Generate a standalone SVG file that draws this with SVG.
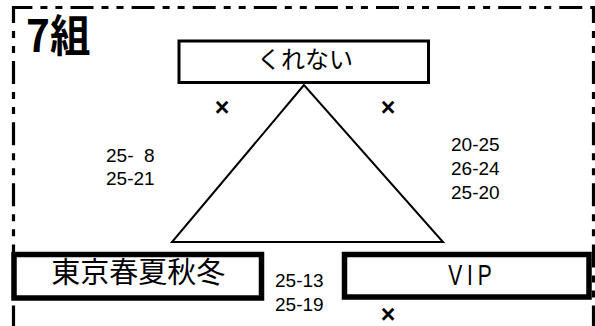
<svg xmlns="http://www.w3.org/2000/svg" width="595" height="326" viewBox="0 0 595 326">
  <style>
    .box { fill: #fff; stroke: #000; }
    .line { fill: none; stroke: #000; stroke-width: 2; }
    .jp { font-family: "Noto Sans CJK JP", sans-serif; fill: #000; }
    .score { font-family: "Liberation Sans", Arial, sans-serif; font-size: 19px; fill: #000; }
    .mark { font-family: "Liberation Sans", Arial, sans-serif; font-size: 25px; font-weight: bold; fill: #000; text-anchor: middle; }
  </style>
  <rect width="595" height="326" fill="#fff"/>
  <g id="frame" fill="none" stroke="#000" stroke-width="3.2" stroke-dasharray="23,8,7,8,7,8.1">
    <line x1="12" y1="7.5" x2="595" y2="7.5" stroke-dashoffset="2.6"/>
    <line x1="13.5" y1="6" x2="13.5" y2="326" stroke-dashoffset="6"/>
    <line x1="593.5" y1="6" x2="593.5" y2="326" stroke-dashoffset="6"/>
  </g>
  <g id="title">
    <text class="jp" transform="translate(26 52) scale(0.92 1)" font-size="44" font-weight="bold">7組</text>
  </g>
  <g id="connectors">
    <polygon class="line" points="304,85 172,242 443,242"/>
  </g>
  <g id="node-kurenai">
    <rect class="box" x="179" y="41" width="249.5" height="41.5" stroke-width="3"/>
    <text class="jp" x="305" y="68" font-size="24" text-anchor="middle">くれない</text>
  </g>
  <g id="node-tokyo">
    <rect class="box" x="14" y="254.5" width="247.5" height="43.5" stroke-width="5.5"/>
    <text class="jp" x="138.3" y="283" font-size="29" text-anchor="middle">東京春夏秋冬</text>
  </g>
  <g id="node-vip">
    <rect class="box" x="344.5" y="254.5" width="244.5" height="42.5" stroke-width="5.5"/>
    <text transform="translate(470 285) scale(0.7 1)" fill="#000" font-family="'Liberation Sans', Arial, sans-serif" font-size="30" text-anchor="middle" textLength="62" lengthAdjust="spacing">VIP</text>
  </g>
  <g id="labels">
    <text class="mark" x="222" y="116">×</text>
    <text class="mark" x="388" y="116">×</text>
    <text class="mark" x="388" y="322.5">×</text>
    <text class="score" x="106" y="161.7" xml:space="preserve">25-&#8199;8</text>
    <text class="score" x="106" y="185">25-21</text>
    <text class="score" x="451" y="150.7">20-25</text>
    <text class="score" x="451" y="175">26-24</text>
    <text class="score" x="451" y="198.5">25-20</text>
    <text class="score" x="275" y="286.5">25-13</text>
    <text class="score" x="275" y="310.5">25-19</text>
  </g>
</svg>
